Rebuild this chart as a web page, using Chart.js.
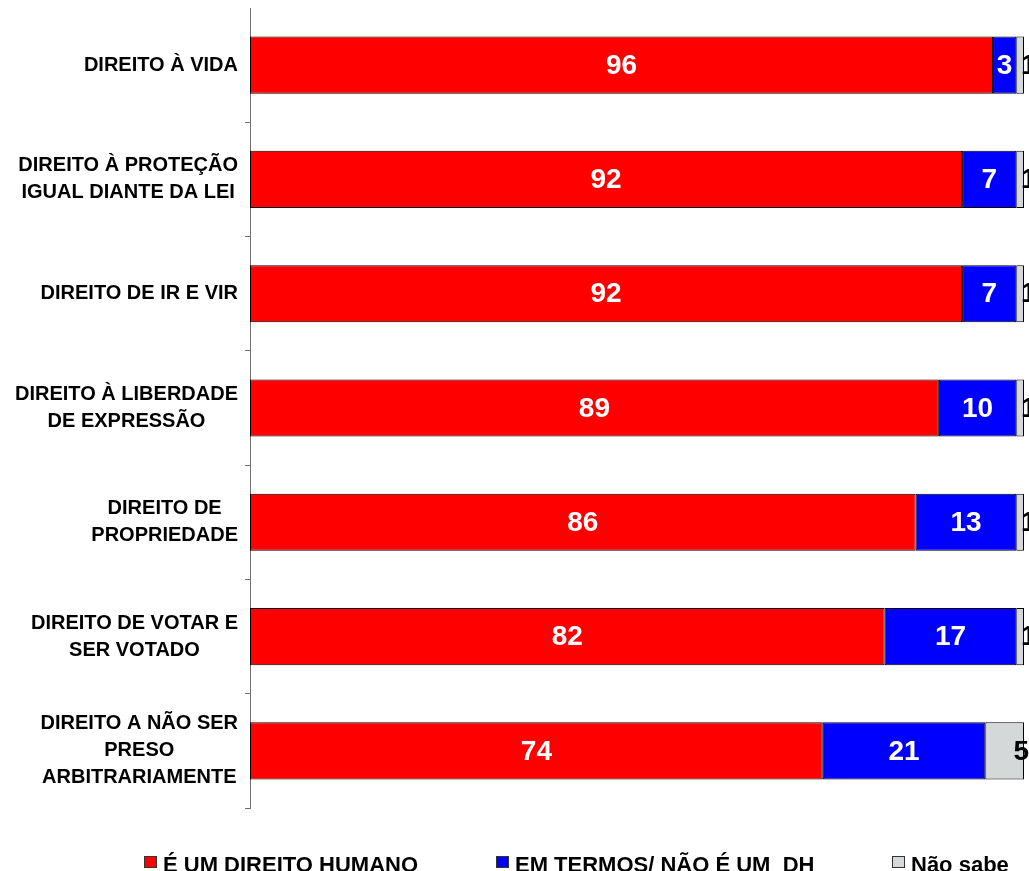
<!DOCTYPE html>
<html>
<head>
<meta charset="utf-8">
<script src="https://cdn.jsdelivr.net/npm/chart.js@4/dist/chart.umd.min.js"></script>
<style>
  html, body { margin: 0; padding: 0; background: #ffffff; }
  #wrap { position: relative; width: 1029px; height: 871px; overflow: hidden; }
</style>
</head>
<body>
<div id="wrap"><canvas id="c"></canvas></div>
<script>
const categories = [
  ['DIREITO À VIDA'],
  ['DIREITO À PROTEÇÃO', 'IGUAL DIANTE DA LEI'],
  ['DIREITO DE IR E VIR'],
  ['DIREITO À LIBERDADE', 'DE EXPRESSÃO'],
  ['DIREITO DE', 'PROPRIEDADE'],
  ['DIREITO DE VOTAR E', 'SER VOTADO'],
  ['DIREITO A NÃO SER', 'PRESO', 'ARBITRARIAMENTE']
];
const seriesNames = ['É UM DIREITO HUMANO', 'EM TERMOS/ NÃO É UM  DH', 'Não sabe'];
const humanRight = [96, 92, 92, 89, 86, 82, 74];
const partlyNot = [3, 7, 7, 10, 13, 17, 21];
const dontKnow = [1, 1, 1, 1, 1, 1, 5];

const FONT = '"Liberation Sans", Arial, Helvetica, sans-serif';
const colors = ['#FF0000', '#0000FF', '#D4D8D8'];

// Category labels: each block right-aligned, its lines centred on each other
const categoryLabelPlugin = {
  id: 'categoryLabels',
  afterDraw(chart) {
    const ctx = chart.ctx;
    const scale = chart.scales.y;
    const right = chart.chartArea.left - 12;
    const lh = 27;
    ctx.save();
    ctx.font = 'bold 20px ' + FONT;
    ctx.fillStyle = '#000000';
    ctx.textAlign = 'center';
    ctx.textBaseline = 'middle';
    chart.data.labels.forEach((lines, i) => {
      const y = scale.getPixelForValue(i);
      const w = Math.max(...lines.map(l => ctx.measureText(l).width));
      const cx = right - w / 2;
      lines.forEach((l, j) => {
        ctx.fillText(l, cx, y + (j - (lines.length - 1) / 2) * lh);
      });
    });
    ctx.restore();
  }
};

// Value labels on segments
const valueLabelPlugin = {
  id: 'valueLabels',
  afterDatasetsDraw(chart) {
    const ctx = chart.ctx;
    ctx.save();
    ctx.font = 'bold 28px ' + FONT;
    ctx.textBaseline = 'middle';
    chart.data.datasets.forEach((ds, di) => {
      const meta = chart.getDatasetMeta(di);
      meta.data.forEach((bar, i) => {
        const v = ds.data[i];
        const txt = String(v);
        const start = Math.min(bar.x, bar.base);
        const end = Math.max(bar.x, bar.base);
        const tw = ctx.measureText(txt).width;
        if (di < 2) {
          ctx.fillStyle = '#FFFFFF';
          ctx.textAlign = 'center';
          ctx.fillText(txt, (start + end) / 2, bar.y + 1);
        } else {
          ctx.fillStyle = '#000000';
          if (end - start > tw) {
            ctx.textAlign = 'right';
            ctx.fillText(txt, end + 5, bar.y + 1);
          } else {
            ctx.textAlign = 'left';
            ctx.fillText(txt, end - 3, bar.y + 1);
          }
        }
      });
    });
    ctx.restore();
  }
};

// Legend at the bottom
const legendPlugin = {
  id: 'bottomLegend',
  afterDraw(chart) {
    const ctx = chart.ctx;
    const xs = [144, 496, 892];
    const baseline = 872;
    ctx.save();
    ctx.font = 'bold 22px ' + FONT;
    ctx.textAlign = 'left';
    ctx.textBaseline = 'alphabetic';
    chart.data.datasets.forEach((ds, i) => {
      const x = xs[i];
      ctx.fillStyle = ds.backgroundColor;
      ctx.fillRect(x + 0.5, 856.5, 12, 11);
      ctx.strokeStyle = '#333333';
      ctx.lineWidth = 1;
      ctx.strokeRect(x + 0.5, 856.5, 12, 11);
      ctx.fillStyle = '#000000';
      ctx.fillText(ds.label, x + 19, baseline);
    });
    ctx.restore();
  }
};

new Chart(document.getElementById('c'), {
  type: 'bar',
  data: {
    labels: categories,
    datasets: [
      { label: seriesNames[0], data: humanRight, backgroundColor: colors[0] },
      { label: seriesNames[1], data: partlyNot, backgroundColor: colors[1] },
      { label: seriesNames[2], data: dontKnow, backgroundColor: colors[2] }
    ]
  },
  options: {
    indexAxis: 'y',
    responsive: true,
    maintainAspectRatio: false,
    animation: false,
    datasets: {
      bar: {
        borderColor: '#000000',
        borderWidth: 1,
        borderSkipped: false,
        categoryPercentage: 0.5,
        barPercentage: 1.0
      }
    },
    layout: { padding: { top: 8, bottom: 63, left: 0, right: 5 } },
    plugins: {
      legend: { display: false },
      tooltip: { enabled: false }
    },
    scales: {
      x: {
        stacked: true,
        display: false,
        min: 0,
        max: 100
      },
      y: {
        stacked: true,
        afterFit(scale) { scale.width = 250; },
        border: { display: true, color: '#707070', width: 1 },
        grid: {
          offset: true,
          drawOnChartArea: false,
          drawTicks: true,
          tickLength: 5,
          color: (c) => (c.index === 0 ? 'rgba(0,0,0,0)' : '#707070')
        },
        ticks: { display: false }
      }
    }
  },
  plugins: [categoryLabelPlugin, valueLabelPlugin, legendPlugin]
});
</script>
</body>
</html>
